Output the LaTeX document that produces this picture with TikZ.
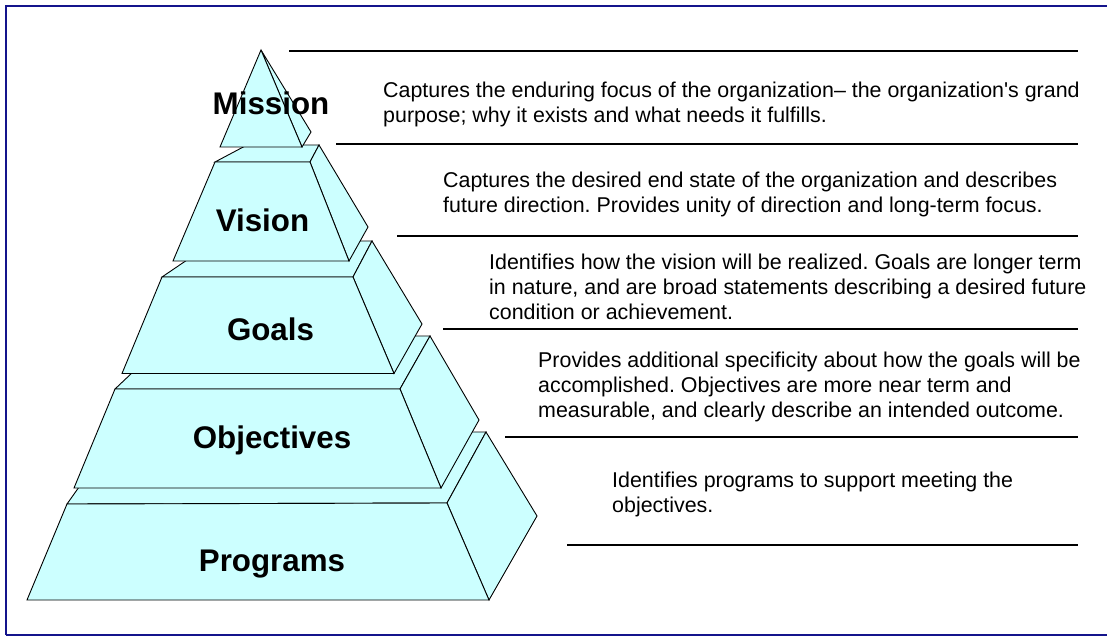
\documentclass[tikz,border=0pt]{standalone}
\usepackage{fontspec}
\setmainfont{Liberation Sans}
\newfontfamily\descfont{Liberation Sans}
\definecolor{tiercyan}{RGB}{204,255,255}
\definecolor{framenavy}{RGB}{20,20,140}
\begin{document}
\frenchspacing
\begin{tikzpicture}[x=1pt,y=-1pt,
  face/.style={fill=tiercyan,draw=black,line width=0.9pt,line join=miter},
  tierlabel/.style={font=\bfseries\fontsize{31.3}{36}\selectfont,inner sep=0,anchor=base},
  desc/.style={font=\descfont\fontsize{21.4}{25}\selectfont\frenchspacing,align=left,anchor=north west,inner sep=0},
  rulebar/.style={line width=2pt,black}]
\useasboundingbox (0,0) rectangle (1107,636);
% frame
\draw[framenavy,line width=2pt] (6,635) -- (6,6) -- (1115,6);
\draw[framenavy,line width=2pt] (6,635) -- (1115,635);

% Programs tier
\draw[face] (67,504) -- (118,432) -- (486,432) -- (447,503) -- cycle;
\draw[face] (447,503) -- (486,432) -- (537,516) -- (489,600) -- cycle;
\draw[face] (67,504) -- (447,503) -- (489,600) -- (27,600) -- cycle;
% Objectives tier
\draw[face] (115,389) -- (171,336) -- (430,336) -- (400,389) -- cycle;
\draw[face] (400,389) -- (430,336) -- (479,420) -- (441,488) -- cycle;
\draw[face] (115,389) -- (400,389) -- (441,488) -- (74,488) -- cycle;
% Goals tier
\draw[face] (162,277) -- (215,241) -- (372,241) -- (353,277) -- cycle;
\draw[face] (353,277) -- (372,241) -- (422,324) -- (394,373.5) -- cycle;
\draw[face] (162,277) -- (353,277) -- (394,373.5) -- (122,373.5) -- cycle;
% Vision tier
\draw[face] (215,162) -- (247,145) -- (319,145) -- (310,162) -- cycle;
\draw[face] (310,162) -- (319,145) -- (368,227) -- (349,261) -- cycle;
\draw[face] (215,162) -- (310,162) -- (349,261) -- (173,261) -- cycle;
% Mission tier
\draw[face] (261,50) -- (311,132) -- (302,147) -- cycle;
\draw[face] (261,50) -- (302,147) -- (220,147) -- cycle;

% tier labels
\node[tierlabel] (lmission) at (271,115) {Mission};
\node[tierlabel] (lvision) at (262.5,231.5) {Vision};
\node[tierlabel] (lgoals) at (270.5,340) {Goals};
\node[tierlabel] (lobjectives) at (272,448) {Objectives};
\node[tierlabel] (lprograms) at (272,571) {Programs};

% separators
\draw[rulebar] (289,51.5) -- (1078,51.5);
\draw[rulebar] (336,144.5) -- (1078,144.5);
\draw[rulebar] (397,236.5) -- (1078,236.5);
\draw[rulebar] (443,328.5) -- (1078,328.5);
\draw[rulebar] (505,436.5) -- (1078,436.5);
\draw[rulebar] (567,545) -- (1078,545);

% descriptions
\node[desc] (dmission) at (383,81.5) {Captures the enduring focus of the organization– the organization's grand\\purpose; why it exists and what needs it fulfills.};
\node[desc] (dvision) at (443,171.5) {Captures the desired end state of the organization and describes\\future direction. Provides unity of direction and long-term focus.};
\node[desc] (dgoals) at (489,253.5) {Identifies how the vision will be realized. Goals are longer term\\in nature, and are broad statements describing a desired future\\condition or achievement.};
\node[desc] (dobjectives) at (538,352) {Provides additional specificity about how the goals will be\\accomplished. Objectives are more near term and\\measurable, and clearly describe an intended outcome.};
\node[desc] (dprograms) at (612,471.5) {Identifies programs to support meeting the\\objectives.};
\end{tikzpicture}
\end{document}
